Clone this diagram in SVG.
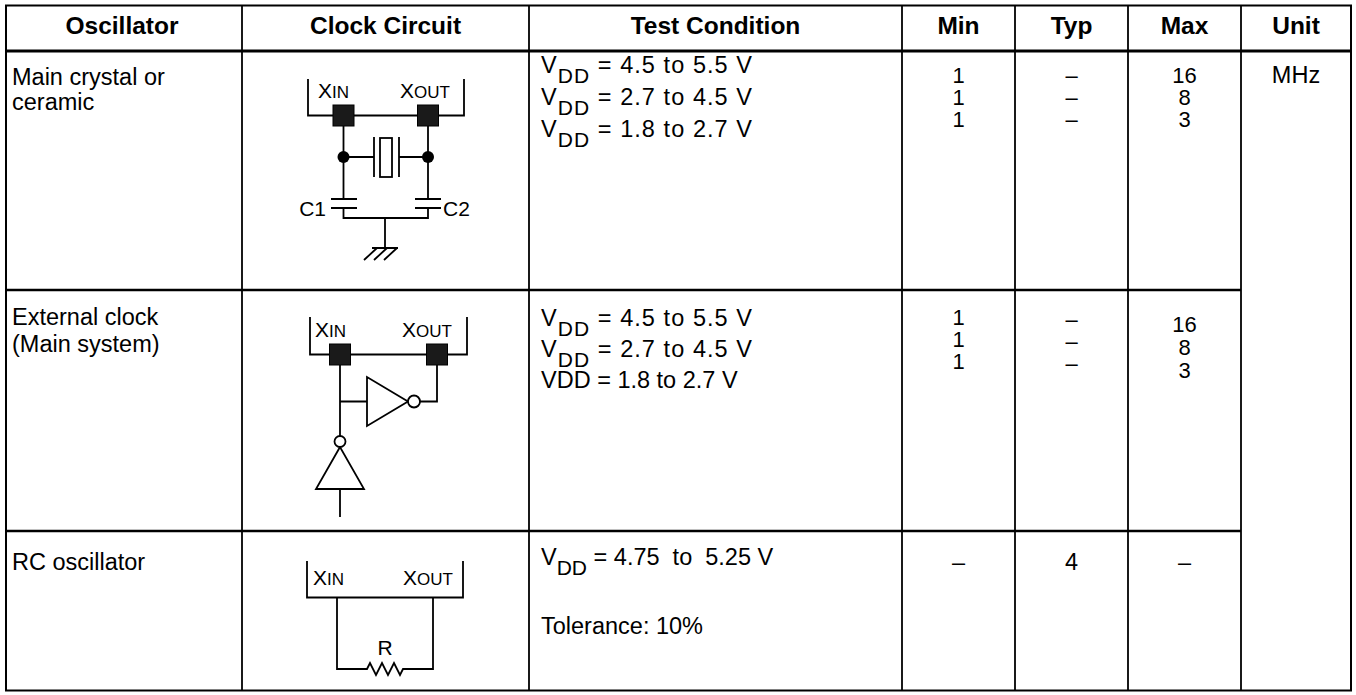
<svg xmlns="http://www.w3.org/2000/svg" width="1356" height="695" viewBox="0 0 1356 695">
<style>
text{font-family:"Liberation Sans",Arial,sans-serif;font-size:23.5px;fill:#000}
.h{font-weight:bold;text-anchor:middle;font-size:24.5px}
.c{text-anchor:middle}
.n{text-anchor:middle;font-size:22px}
.sub{font-size:21px}
.lbl{font-size:21px}
.sm{font-size:17px}
.grid{stroke:#000;fill:none}
.w{stroke:#000;stroke-width:1.8;fill:none}
.pad{fill:#1a1a1a;stroke:#000;stroke-width:1}
.wf{fill:#fff;stroke:#000;stroke-width:1.8}
.dot{fill:#000}
</style>
<rect width="1356" height="695" fill="#fff"/>
<g id="grid" class="grid">
<rect x="6" y="5.5" width="1345" height="685" stroke-width="2"/>
<line x1="6" y1="51" x2="1351" y2="51" stroke-width="3"/>
<line x1="6" y1="290" x2="1241" y2="290" stroke-width="2.5"/>
<line x1="6" y1="531" x2="1241" y2="531" stroke-width="2.5"/>
<g stroke-width="1.8">
<line x1="242" y1="5.5" x2="242" y2="690.5"/>
<line x1="529" y1="5.5" x2="529" y2="690.5"/>
<line x1="902" y1="5.5" x2="902" y2="690.5"/>
<line x1="1015" y1="5.5" x2="1015" y2="690.5"/>
<line x1="1128" y1="5.5" x2="1128" y2="690.5"/>
<line x1="1241" y1="5.5" x2="1241" y2="690.5"/>
</g>
</g>
<g id="header">
<text class="h" x="122" y="34">Oscillator</text>
<text class="h" x="385.5" y="34">Clock Circuit</text>
<text class="h" x="715.5" y="34">Test Condition</text>
<text class="h" x="958.5" y="34">Min</text>
<text class="h" x="1071.5" y="34">Typ</text>
<text class="h" x="1184.5" y="34">Max</text>
<text class="h" x="1296" y="34">Unit</text>
</g>
<g id="row1">
<text x="12" y="85">Main crystal or</text>
<text x="12" y="110">ceramic</text>
<text x="541" y="73" textLength="211" lengthAdjust="spacing">V<tspan class="sub" dy="10">DD</tspan><tspan dy="-10"> = 4.5 to 5.5 V</tspan></text>
<text x="541" y="105" textLength="211" lengthAdjust="spacing">V<tspan class="sub" dy="10">DD</tspan><tspan dy="-10"> = 2.7 to 4.5 V</tspan></text>
<text x="541" y="137" textLength="211" lengthAdjust="spacing">V<tspan class="sub" dy="10">DD</tspan><tspan dy="-10"> = 1.8 to 2.7 V</tspan></text>
<text class="n" x="958.5" y="83">1</text>
<text class="n" x="958.5" y="105">1</text>
<text class="n" x="958.5" y="127">1</text>
<text class="n" x="1071.5" y="83">–</text>
<text class="n" x="1071.5" y="105">–</text>
<text class="n" x="1071.5" y="127">–</text>
<text class="n" x="1184.5" y="83">16</text>
<text class="n" x="1184.5" y="105">8</text>
<text class="n" x="1184.5" y="127">3</text>
<text class="c" x="1296" y="83">MHz</text>
</g>
<g id="circuit1">
<path class="w" d="M308,79V115.5H464V79"/>
<rect class="pad" x="333" y="105" width="21" height="21"/>
<rect class="pad" x="417.5" y="105" width="21" height="21"/>
<path class="w" d="M343.5,126V199M428,126V199M343.5,157H374M374,137V177M399,137V177M399,157H428"/>
<rect class="wf" x="380" y="138" width="12" height="39"/>
<circle class="dot" cx="343.5" cy="157" r="6"/>
<circle class="dot" cx="428" cy="157" r="6"/>
<path class="w" d="M331,199H357M331,208H357M415,199H441M415,208H441M343.5,208V218H428V208M385,218V248M372,248H398M377,248L364,260M387,248L374,260M397,248L384,260"/>
<text class="lbl" x="326" y="216" text-anchor="end">C1</text>
<text class="lbl" x="443" y="216">C2</text>
<text class="lbl" x="318" y="98">X<tspan class="sm">IN</tspan></text>
<text class="lbl" x="400" y="98">X<tspan class="sm">OUT</tspan></text>
</g>
<g id="row2">
<text x="12" y="325">External clock</text>
<text x="12" y="352">(Main system)</text>
<text x="541" y="325.5" textLength="211" lengthAdjust="spacing">V<tspan class="sub" dy="10">DD</tspan><tspan dy="-10"> = 4.5 to 5.5 V</tspan></text>
<text x="541" y="356.5" textLength="211" lengthAdjust="spacing">V<tspan class="sub" dy="10">DD</tspan><tspan dy="-10"> = 2.7 to 4.5 V</tspan></text>
<text x="541" y="387.5">VDD = 1.8 to 2.7 V</text>
<text class="n" x="958.5" y="325">1</text>
<text class="n" x="958.5" y="347">1</text>
<text class="n" x="958.5" y="369">1</text>
<text class="n" x="1071.5" y="327">–</text>
<text class="n" x="1071.5" y="349">–</text>
<text class="n" x="1071.5" y="371">–</text>
<text class="n" x="1184.5" y="332">16</text>
<text class="n" x="1184.5" y="355">8</text>
<text class="n" x="1184.5" y="378">3</text>
</g>
<g id="circuit2">
<path class="w" d="M310,317V354.5H467V317"/>
<rect class="pad" x="329.5" y="344" width="21" height="21"/>
<rect class="pad" x="426.5" y="344" width="21" height="21"/>
<path class="w" d="M340,365V436M340,401.5H367M420,401.5H437V365M340,489V517"/>
<polygon class="wf" points="367,377 367,426 408,401.5"/>
<circle class="wf" cx="414" cy="401.5" r="6"/>
<polygon class="wf" points="340,447 316,489 364,489"/>
<circle class="wf" cx="340" cy="441.5" r="5.5"/>
<text class="lbl" x="315" y="337">X<tspan class="sm">IN</tspan></text>
<text class="lbl" x="402" y="337">X<tspan class="sm">OUT</tspan></text>
</g>
<g id="row3">
<text x="12" y="570">RC oscillator</text>
<text x="541" y="565" xml:space="preserve">V<tspan class="sub" dy="10">DD</tspan><tspan dy="-10"> = 4.75  to  5.25 V</tspan></text>
<text x="541" y="634">Tolerance: 10%</text>
<text class="c" x="958.5" y="570">–</text>
<text class="c" x="1071.5" y="570">4</text>
<text class="c" x="1184.5" y="570">–</text>
</g>
<g id="circuit3">
<path class="w" d="M307,561V597.5H463V561M337,597.5V669H367L370,663L376,675L382,663L388,675L394,663L400,675L403,669H433V597.5"/>
<text class="lbl" x="385" y="655" text-anchor="middle">R</text>
<text class="lbl" x="313" y="585">X<tspan class="sm">IN</tspan></text>
<text class="lbl" x="403" y="585">X<tspan class="sm">OUT</tspan></text>
</g>
</svg>
